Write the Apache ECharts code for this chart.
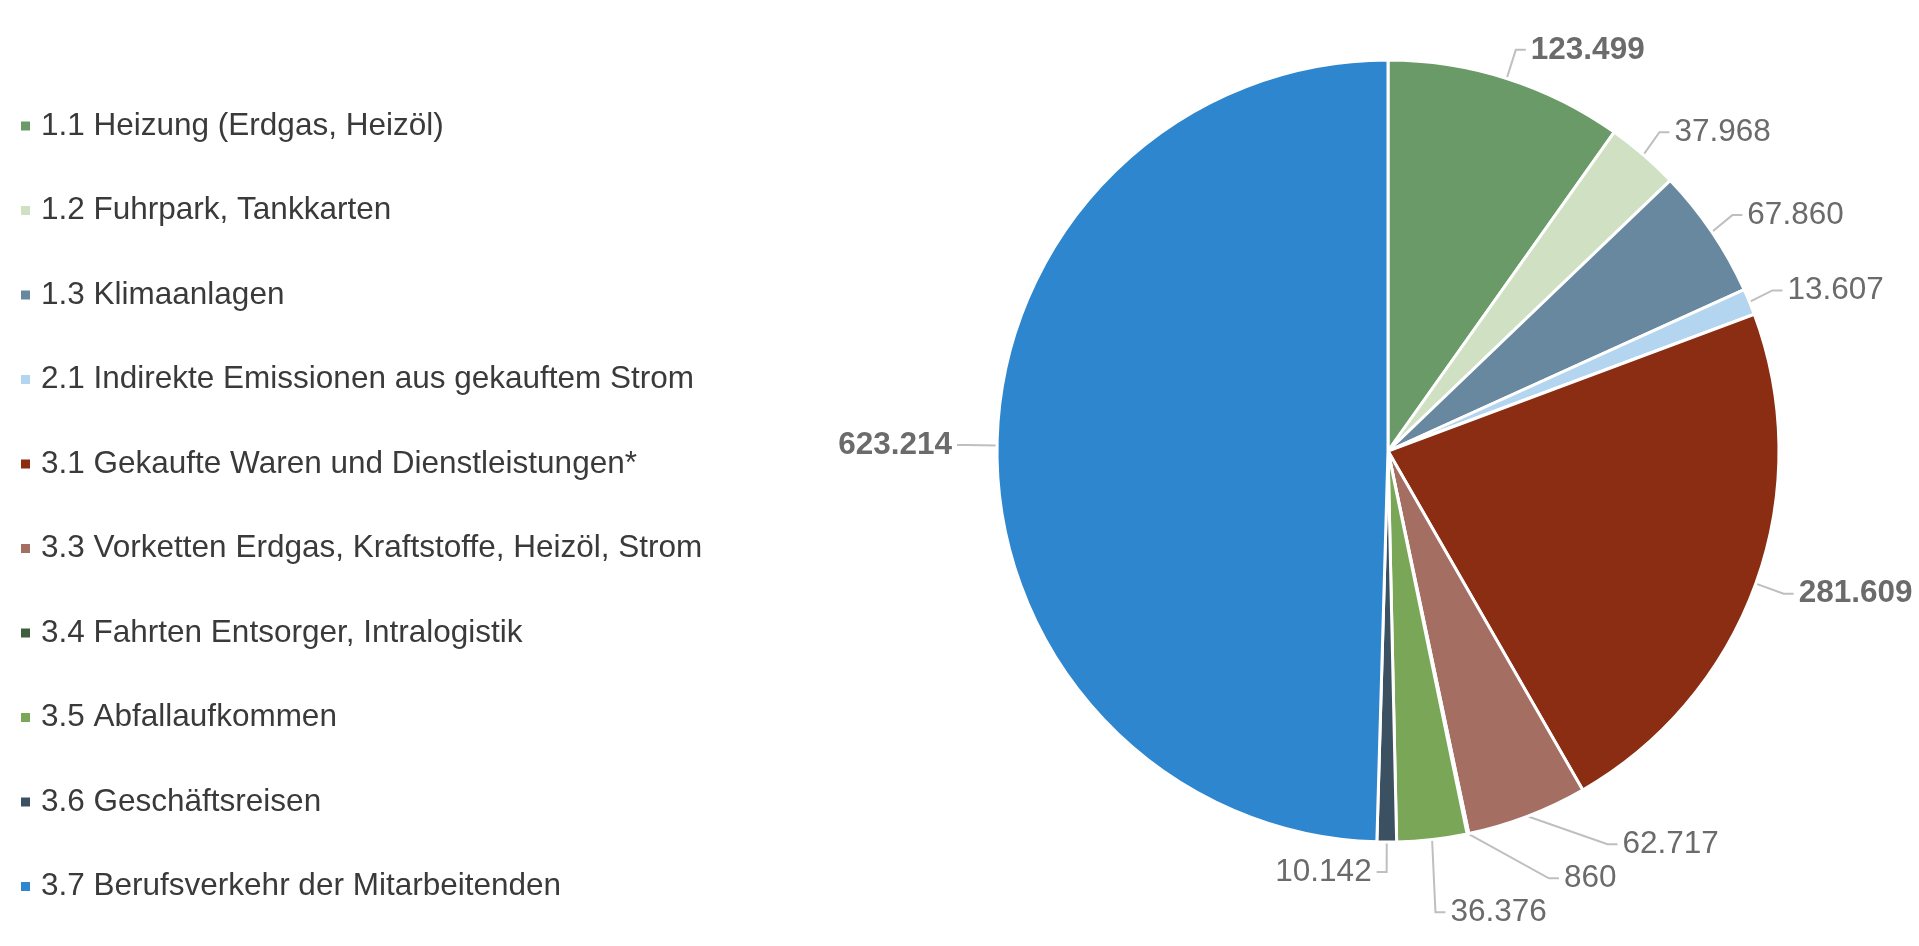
<!DOCTYPE html>
<html>
<head>
<meta charset="utf-8">
<script src="https://cdn.jsdelivr.net/npm/echarts@6/dist/echarts.min.js"></script>
<style>
html,body{margin:0;padding:0;background:#fff;}
#c{width:1919px;height:946px;}
</style>
</head>
<body>
<div id="c"></div>
<script>
const categories = [
  "1.1 Heizung (Erdgas, Heizöl)",
  "1.2 Fuhrpark, Tankkarten",
  "1.3 Klimaanlagen",
  "2.1 Indirekte Emissionen aus gekauftem Strom",
  "3.1 Gekaufte Waren und Dienstleistungen*",
  "3.3 Vorketten Erdgas, Kraftstoffe, Heizöl, Strom",
  "3.4 Fahrten Entsorger, Intralogistik",
  "3.5 Abfallaufkommen",
  "3.6 Geschäftsreisen",
  "3.7 Berufsverkehr der Mitarbeitenden"
];
const values = [123499, 37968, 67860, 13607, 281609, 62717, 860, 36376, 10142, 623214];
const colors = ["#6a9a67", "#d0e0c3", "#68889f", "#b4d5ef", "#8b2d13", "#a46e62", "#3e5e3d", "#7aa657", "#3b5061", "#2e86cf"];
const boldItems = [0, 4, 9];

function fmt(v) {
  return String(v).replace(/\B(?=(\d{3})+(?!\d))/g, ".");
}

const data = categories.map((name, i) => ({
  name: name,
  value: values[i],
  itemStyle: { color: colors[i] },
  label: { fontWeight: boldItems.includes(i) ? "bold" : "normal" }
}));

const chart = echarts.init(document.getElementById("c"));
chart.setOption({
  animation: false,
  textStyle: { fontFamily: "Liberation Sans, Arial, sans-serif" },
  legend: {
    orient: "vertical",
    left: 14,
    top: 103,
    icon: "rect",
    itemWidth: 11,
    itemHeight: 11,
    itemGap: 48.5,
    selectedMode: false,
    textStyle: {
      fontSize: 31.5,
      lineHeight: 36,
      color: "#3a3a3a",
      fontFamily: "Liberation Sans, Arial, sans-serif",
      padding: [0, 0, 0, 5]
    },
    data: categories
  },
  series: [{
    type: "pie",
    center: [1388, 451],
    radius: [0, 391],
    startAngle: 90,
    clockwise: true,
    avoidLabelOverlap: true,
    itemStyle: { borderColor: "#ffffff", borderWidth: 3 },
    label: {
      show: true,
      formatter: p => fmt(p.value),
      fontSize: 31.5,
      color: "#6b6b6b",
      overflow: "none",
      edgeDistance: 0,
      fontFamily: "Liberation Sans, Arial, sans-serif"
    },
    labelLine: {
      show: true,
      length: 30,
      length2: 10,
      lineStyle: { color: "#bfbfbf", width: 2 }
    },
    data: data
  }]
});
</script>
</body>
</html>
